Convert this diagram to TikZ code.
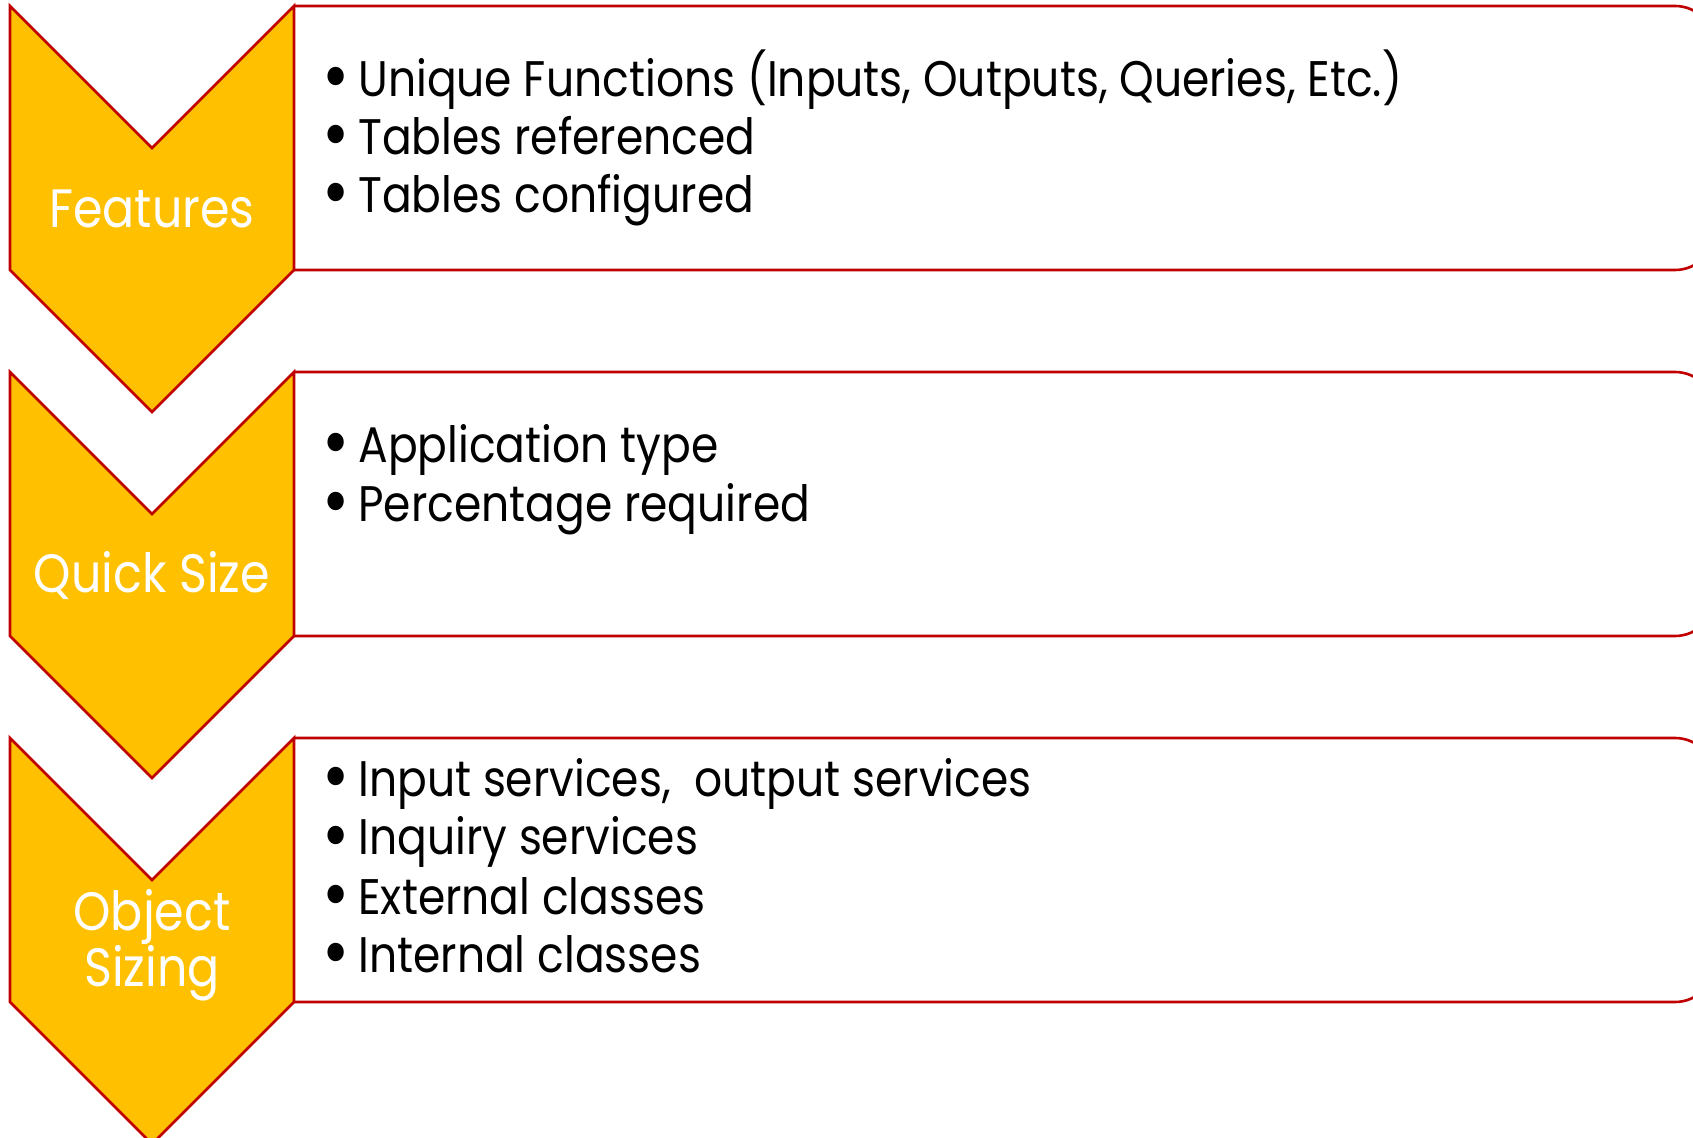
\documentclass[tikz,border=0pt]{standalone}
\usepackage{fontspec}
\setmainfont{Poppins}
\newfontfamily\bodyfont[FakeStretch=0.88]{Poppins}
\definecolor{gold}{HTML}{FFC000}
\definecolor{dred}{HTML}{C00000}
\tikzset{
  boxline/.style={draw=dred, line width=1.3pt, fill=white, rounded corners=20pt},
  chev/.style={draw=dred, line width=1.3pt, fill=gold},
  lbl/.style={text=white, font=\bodyfont\fontsize{27}{28}\selectfont, inner sep=0pt, anchor=base, align=center, text height=18pt, text depth=5pt},
  itm/.style={text=black, font=\bodyfont\fontsize{25}{29}\selectfont, inner sep=0pt, anchor=base west, text height=18pt, text depth=5pt},
  bulnode/.style={text=black, font=\bodyfont\fontsize{25}{29}\selectfont, inner sep=0pt, anchor=base, text height=12pt, text depth=0pt},
}
\begin{document}
\begin{tikzpicture}[x=0.5pt,y=-0.5pt]
\useasboundingbox (0,0) rectangle (1693,1138);
\clip (0,0) rectangle (1693,1138);
\foreach \y in {6,372,738} {
  \draw[boxline] (294,\y) -- (1715,\y) -- (1715,\y+264) -- (294,\y+264);
}
\foreach \y in {6,372,738} {
  \draw[chev] (10,\y) -- (152,\y+142) -- (294,\y) -- (294,\y+264) -- (152,\y+406) -- (10,\y+264) -- cycle;
}
\node[lbl] (l1) at (152,228) {Features};
\node[lbl] (l2) at (152,593) {Quick Size};
\node[lbl] (l3a) at (152,930) {Object};
\node[lbl] (l3b) at (152,986) {Sizing};
\foreach \n/\b/\t in {a1/97/{Unique Functions (Inputs, Outputs, Queries, Etc.)},
                      a2/155/{Tables referenced},
                      a3/213/{Tables configured},
                      b1/463/{Application type},
                      b2/522/{Percentage required},
                      c1/797/{Input services,\ \ output services},
                      c2/855/{Inquiry services},
                      c3/914/{External classes},
                      c4/972/{Internal classes}} {
  \node[bulnode] (\n-bul) at (336,\b+5) {\scalebox{1.5}{•}};
  \node[itm] (\n) at (358,\b) {\t};
}
\end{tikzpicture}
\end{document}
